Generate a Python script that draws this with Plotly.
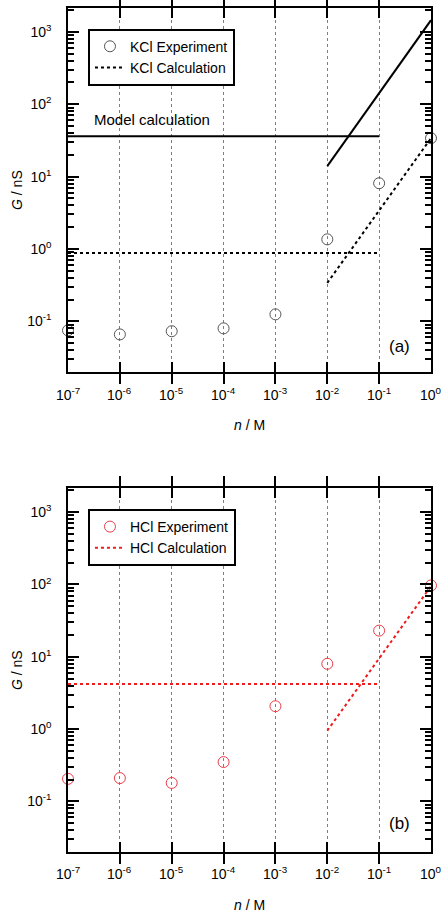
import math
import plotly.graph_objects as go

# ---- data ----
n = [1e-7, 1e-6, 1e-5, 1e-4, 1e-3, 1e-2, 1e-1, 1e0]
kcl_exp = [0.075, 0.066, 0.073, 0.080, 0.125, 1.36, 8.1, 34]
hcl_exp = [0.205, 0.21, 0.18, 0.35, 2.07, 8.0, 23, 97]

flat_n = [1e-7, 1e-1]
slope_n = [1e-2, 1e0]

model_flat = [36, 36]
model_slope = [14, 1450]

kcl_calc_flat = [0.88, 0.88]
kcl_calc_slope = [0.34, 34]

hcl_calc_flat = [4.2, 4.2]
hcl_calc_slope = [0.95, 95]

x_tickvals = [1e-7, 1e-6, 1e-5, 1e-4, 1e-3, 1e-2, 1e-1, 1e0]
x_ticktext = ["10<sup>-7</sup>", "10<sup>-6</sup>", "10<sup>-5</sup>", "10<sup>-4</sup>",
              "10<sup>-3</sup>", "10<sup>-2</sup>", "10<sup>-1</sup>", "10<sup>0</sup>"]
y_tickvals = [0.1, 1, 10, 100, 1000]
y_ticktext = ["10<sup>-1</sup>", "10<sup>0</sup>", "10<sup>1</sup>", "10<sup>2</sup>", "10<sup>3</sup>"]
decades = [0.01, 0.1, 1, 10, 100, 1000]
minor_digits = [2, 3, 4, 5, 6, 7, 8, 9]
y_minor_vals = [d * m for d in decades for m in minor_digits]

FONT = "Liberation Sans, Arial, sans-serif"
GREY = "#555555"
RED = "#e8404a"
RED_LINE = "#ee1c1c"
GRID = "#6f6ff5"
BLACK = "#000000"
XRANGE = [-7, 0]
YRANGE = [-1.7, 3.33]
PAD = "\u00a0\u00a0\u00a0"

fig = go.Figure()

# ---- panel (a) ----
fig.add_trace(go.Scatter(x=n, y=kcl_exp, mode="markers", name="KCl Experiment",
                         marker=dict(symbol="circle-open", size=11, color=GREY, line=dict(width=1, color=GREY)),
                         cliponaxis=False, xaxis="x", yaxis="y", legend="legend"))
fig.add_trace(go.Scatter(x=flat_n + [None] + slope_n, y=kcl_calc_flat + [None] + kcl_calc_slope,
                         mode="lines", name="KCl Calculation",
                         line=dict(color="black", width=2, dash="dot"),
                         xaxis="x", yaxis="y", legend="legend"))
fig.add_trace(go.Scatter(x=flat_n + [None] + slope_n, y=model_flat + [None] + model_slope,
                         mode="lines", name="Model calculation", showlegend=False,
                         line=dict(color="black", width=2),
                         xaxis="x", yaxis="y"))

# ---- panel (b) ----
fig.add_trace(go.Scatter(x=n, y=hcl_exp, mode="markers", name="HCl Experiment",
                         marker=dict(symbol="circle-open", size=11, color=RED, line=dict(width=1, color=RED)),
                         cliponaxis=False, xaxis="x2", yaxis="y2", legend="legend2"))
fig.add_trace(go.Scatter(x=flat_n + [None] + slope_n, y=hcl_calc_flat + [None] + hcl_calc_slope,
                         mode="lines", name="HCl Calculation",
                         line=dict(color=RED_LINE, width=2, dash="dot"),
                         xaxis="x2", yaxis="y2", legend="legend2"))

# invisible traces binding the minor-tick overlay axes
fig.add_trace(go.Scatter(x=[None], y=[None], xaxis="x", yaxis="y3", showlegend=False, hoverinfo="skip"))
fig.add_trace(go.Scatter(x=[None], y=[None], xaxis="x2", yaxis="y4", showlegend=False, hoverinfo="skip"))

tickfont = dict(family=FONT, size=14, color="black")

xcommon = dict(type="log", range=XRANGE, tickmode="array", tickvals=x_tickvals,
               showticklabels=False,
               ticks="inside", ticklen=10, tickwidth=2, tickcolor=BLACK,
               showline=True, linewidth=2, linecolor=BLACK, mirror="allticks",
               showgrid=True, gridcolor=GRID, gridwidth=1, griddash="dot",
               zeroline=False, automargin=False)
ycommon = dict(type="log", range=YRANGE, tickmode="array", tickvals=y_tickvals,
               ticktext=[t + PAD for t in y_ticktext],
               ticks="inside", ticklen=11, tickwidth=2, tickcolor=BLACK,
               showline=True, linewidth=2, linecolor=BLACK, mirror="allticks",
               minor=dict(tickmode="array", tickvals=y_minor_vals, ticks="inside", ticklen=6,
                          tickwidth=1.5, tickcolor=BLACK, showgrid=False),
               showgrid=False, zeroline=False, automargin=False, tickfont=tickfont)
yminor = dict(type="log", range=YRANGE, tickmode="array", tickvals=y_minor_vals,
              ticks="inside", ticklen=6, tickwidth=1.5, tickcolor=BLACK,
              showticklabels=False, showline=True, linewidth=2, linecolor=BLACK,
              mirror="allticks", side="left",
              showgrid=False, zeroline=False, automargin=False)

legcommon = dict(xanchor="left", yanchor="top", bgcolor="white", bordercolor="black", borderwidth=2,
                 font=dict(family=FONT, size=14, color="black"), tracegroupgap=0)

annotations = [
    dict(text="Model calculation", x=0.0653, y=0.8673, xref="paper", yref="paper",
         xanchor="left", yanchor="middle", showarrow=False, font=dict(family=FONT, size=15, color="black")),
    dict(text="(a)", x=0.9146, y=0.5995, xref="paper", yref="paper",
         xanchor="center", yanchor="middle", showarrow=False, font=dict(family=FONT, size=17, color="black")),
    dict(text="(b)", x=0.9146, y=0.0332, xref="paper", yref="paper",
         xanchor="center", yanchor="middle", showarrow=False, font=dict(family=FONT, size=17, color="black")),
    dict(text="<i>G</i> / nS", x=-0.1405, y=0.7844, xref="paper", yref="paper", textangle=-90,
         xanchor="center", yanchor="middle", showarrow=False, font=dict(family=FONT, size=14, color="black")),
    dict(text="<i>G</i> / nS", x=-0.1405, y=0.2156, xref="paper", yref="paper", textangle=-90,
         xanchor="center", yanchor="middle", showarrow=False, font=dict(family=FONT, size=14, color="black")),
    dict(text="<i>n</i> / M", x=0.5, y=0.5059, xref="paper", yref="paper",
         xanchor="center", yanchor="middle", showarrow=False, font=dict(family=FONT, size=14, color="black")),
    dict(text="<i>n</i> / M", x=0.5, y=-0.0628, xref="paper", yref="paper",
         xanchor="center", yanchor="middle", showarrow=False, font=dict(family=FONT, size=14, color="black")),
]
# x tick labels placed through each panel's x scale (log axes take log10 positions)
for xref, ypos in [("x", 0.5427), ("x2", -0.0249)]:
    for v, t in zip(x_tickvals, x_ticktext):
        annotations.append(dict(text=t, x=math.log10(v), y=ypos, xref=xref, yref="paper",
                                xanchor="center", yanchor="middle", showarrow=False, font=tickfont))

fig.update_layout(
    width=442, height=912,
    margin=dict(l=68, r=11, t=8, b=60),
    paper_bgcolor="white", plot_bgcolor="white",
    showlegend=True,
    xaxis=dict(domain=[0, 1], anchor="y", **xcommon),
    yaxis=dict(domain=[0.5687, 1.0], anchor="x", **ycommon),
    xaxis2=dict(domain=[0, 1], anchor="y2", **xcommon),
    yaxis2=dict(domain=[0.0, 0.4309], anchor="x2", **ycommon),
    yaxis3=dict(overlaying="y", anchor="x", **yminor),
    yaxis4=dict(overlaying="y2", anchor="x2", **yminor),
    legend=dict(x=0.055, y=0.9755, **legcommon),
    legend2=dict(x=0.055, y=0.4064, **legcommon),
    annotations=annotations,
)

fig.write_html("out.html")
